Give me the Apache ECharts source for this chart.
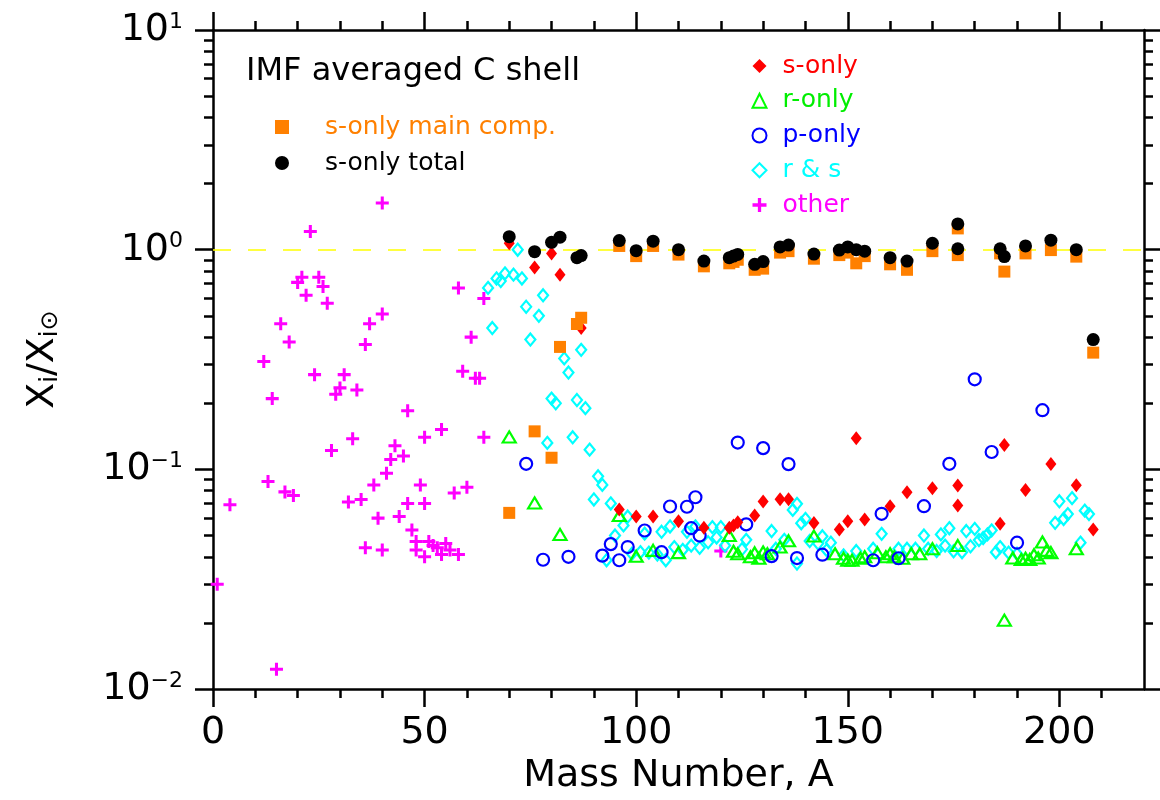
<!DOCTYPE html>
<html>
<head>
<meta charset="utf-8">
<script src="https://cdn.jsdelivr.net/npm/echarts@6/dist/echarts.min.js"></script>
<style>
  html, body { margin: 0; padding: 0; background: #fff; }
  #chart { width: 1160px; height: 800px; }
</style>
</head>
<body>
<div id="chart"></div>
<script>
// ---------------- data ----------------
const xMajorTicks = [0, 50, 100, 150, 200];
const xMinorTicks = [10, 20, 30, 40, 60, 70, 80, 90, 110, 120, 130, 140, 160, 170, 180, 190, 210];
const yMajorTicks = [0.01, 0.1, 1, 10];
const yMinorTicks = [0.02, 0.03, 0.04, 0.05, 0.06, 0.07, 0.08, 0.09,
                     0.2, 0.3, 0.4, 0.5, 0.6, 0.7, 0.8, 0.9,
                     2, 3, 4, 5, 6, 7, 8, 9];

const otherData = [
  [1,0.030],[4,0.069],[12,0.31],[13,0.088],[14,0.21],[15,0.0123],[16,0.46],[17,0.079],
  [18,0.38],[19,0.076],[20,0.71],[21,0.75],[22,0.62],[23,1.21],[24,0.27],[25,0.75],
  [26,0.68],[27,0.57],[28,0.122],[29,0.22],[30,0.235],[31,0.27],[32,0.071],[33,0.138],
  [34,0.23],[35,0.073],[36,0.37],[36,0.044],[37,0.46],[38,0.085],[39,0.060],[40,1.63],
  [40,0.51],[40,0.043],[41,0.096],[42,0.111],[43,0.128],[44,0.061],[45,0.115],[46,0.185],
  [46,0.070],[47,0.053],[48,0.047],[48,0.043],[49,0.085],[50,0.14],[50,0.070],[50,0.040],
  [51,0.047],[52,0.045],[53,0.044],[54,0.152],[54,0.041],[55,0.046],[56,0.043],[57,0.078],
  [58,0.67],[58,0.041],[59,0.28],[60,0.083],[61,0.40],[62,0.26],[63,0.26],[64,0.60],
  [64,0.14],[120,0.0425]
];

const rsData = [
  [65,0.67],[66,0.44],[67,0.74],[68,0.72],[69,0.78],[71,0.77],[72,1.0],[73,0.74],
  [74,0.55],[75,0.39],[77,0.50],[78,0.62],[79,0.132],[80,0.21],[81,0.20],[83,0.32],
  [84,0.276],[85,0.14],[86,0.207],[87,0.35],[88,0.19],[89,0.123],[90,0.073],[91,0.093],
  [92,0.085],[93,0.0386],[94,0.070],[95,0.050],[97,0.0556],[98,0.061],[99,0.0413],[101,0.042],
  [102,0.051],[103,0.0418],[105,0.041],[106,0.052],[107,0.0386],[108,0.055],[109,0.0443],[111,0.043],
  [112,0.052],[113,0.045],[114,0.055],[115,0.044],[117,0.0466],[118,0.0546],[119,0.049],[120,0.0546],
  [121,0.045],[125,0.0433],[126,0.0478],[132,0.0524],[133,0.0435],[135,0.0478],[137,0.0654],[138,0.0697],
  [138,0.0373],[139,0.0569],[140,0.0595],[141,0.0472],[143,0.046],[144,0.0496],[145,0.0429],[146,0.0464],
  [149,0.0406],[152,0.0425],[156,0.0435],[158,0.0509],[162,0.0435],[164,0.0435],[166,0.0435],[168,0.050],
  [169,0.0435],[171,0.0425],[172,0.0506],[173,0.045],[174,0.054],[175,0.0424],[177,0.042],[178,0.0524],
  [179,0.0447],[180,0.0536],[181,0.0477],[182,0.0487],[183,0.0506],[184,0.0528],[185,0.042],[186,0.0443],
  [188,0.0418],[190,0.0413],[199,0.0571],[200,0.0716],[201,0.0595],[202,0.0626],[203,0.074],[205,0.0464],
  [206,0.0649],[207,0.0626]
];

const pOnlyData = [
  [74,0.106],[78,0.0388],[84,0.040],[92,0.0405],[94,0.0457],[96,0.0386],[98,0.0443],[102,0.0527],
  [106,0.042],[108,0.0678],[112,0.0676],[113,0.054],[114,0.0747],[115,0.050],
  [124,0.1325],[126,0.0562],[130,0.125],[132,0.0403],[136,0.1057],[138,0.0395],[144,0.0409],[156,0.0386],
  [158,0.0628],[162,0.0394],[168,0.068],[174,0.106],[180,0.257],[184,0.120],[190,0.0464],[196,0.186]
];

const rOnlyData = [
  [70,0.1406],[76,0.0704],[82,0.0506],[96,0.0617],[100,0.0402],[104,0.0428],[110,0.0418],[122,0.050],
  [123,0.0424],[124,0.0413],[127,0.040],[128,0.0417],[129,0.0394],[130,0.0421],[131,0.0413],[134,0.0443],
  [136,0.0473],[142,0.0497],[147,0.0413],[149,0.0394],[150,0.0386],[151,0.0386],[153,0.0394],[154,0.040],
  [157,0.0417],[159,0.040],[160,0.0413],[161,0.040],[163,0.0394],[165,0.0413],[167,0.0413],[170,0.0435],
  [176,0.045],[187,0.0206],[189,0.0395],[191,0.0389],[192,0.0394],[193,0.0389],[194,0.0409],[195,0.0395],
  [196,0.0467],[197,0.0428],[198,0.0418],[204,0.0435]
];

const sOnlyData = [
  [70,1.07],[76,0.83],[80,0.96],[82,0.77],[87,0.44],[96,0.0657],[100,0.0611],[104,0.0611],
  [110,0.058],[116,0.0542],[122,0.0542],[123,0.0555],[124,0.0574],[128,0.0617],[130,0.0714],[134,0.0731],
  [136,0.0731],[142,0.057],[148,0.0533],[150,0.058],[152,0.1387],[154,0.0592],[160,0.068],[164,0.0787],
  [170,0.082],[176,0.0844],[176,0.0685],[186,0.0565],[187,0.129],[192,0.0805],[198,0.1057],[204,0.0847],
  [208,0.0533]
];

const mainCompData = [
  [70,0.0634],[76,0.149],[80,0.113],[82,0.361],[86,0.459],[87,0.49],[96,1.04],[100,0.935],
  [104,1.04],[110,0.95],[116,0.84],[122,0.867],[123,0.88],[124,0.90],[128,0.81],[130,0.82],
  [134,0.97],[136,0.985],[142,0.91],[148,0.945],[150,0.97],[152,0.867],[154,0.935],[160,0.858],
  [164,0.81],[170,0.985],[176,1.25],[176,0.945],[186,0.962],[187,0.795],[192,0.962],[198,0.996],
  [204,0.93],[208,0.34]
];

const totalData = [
  [70,1.146],[76,0.98],[80,1.08],[82,1.14],[86,0.92],[87,0.94],[96,1.10],[100,0.99],
  [104,1.094],[110,1.0],[116,0.888],[122,0.92],[123,0.935],[124,0.952],[128,0.858],[130,0.883],
  [134,1.03],[136,1.05],[142,0.955],[148,0.996],[150,1.03],[152,1.0],[154,0.985],[160,0.92],
  [164,0.888],[170,1.07],[176,1.31],[176,1.01],[186,1.01],[187,0.93],[192,1.04],[198,1.105],
  [204,1.0],[208,0.39]
];

const referenceLevel = 1;

// ---------------- styling ----------------
const FF = 'DejaVu Sans';
const PLUS = 'path://M4.6,0 L7.4,0 L7.4,4.6 L12,4.6 L12,7.4 L7.4,7.4 L7.4,12 L4.6,12 L4.6,7.4 L0,7.4 L0,4.6 L4.6,4.6 Z';
const C = {
  other: '#ff00ff', rs: '#00ffff', p: '#0000ff', r: '#00ff00',
  s: '#ff0000', main: '#ff8000', total: '#000000'
};

function supLabel(v) {
  const e = Math.round(Math.log10(v));
  const s = e < 0 ? '\u2212' + Math.abs(e) : String(e);
  return '{b|10}{s|' + s + '}';
}

const axisLineStyle = { color: '#000', width: 2.5 };

function xAx(position, ticks, len, showLine, showLabel) {
  return {
    type: 'value', min: 0, max: 220, position: position, gridIndex: 0,
    axisLine: { show: showLine, onZero: false, lineStyle: axisLineStyle },
    axisTick: { show: true, inside: false, length: len, customValues: ticks, lineStyle: { color: '#000', width: 2.5 } },
    axisLabel: showLabel ? {
      show: true, customValues: ticks, fontSize: 38, fontFamily: FF, color: '#000', margin: 25
    } : { show: false, customValues: ticks },
    splitLine: { show: false }, minorTick: { show: false }
  };
}
function yAx(position, ticks, len, showLine, showLabel) {
  return {
    type: 'log', logBase: 10, min: 0.01, max: 10, position: position, gridIndex: 0,
    axisLine: { show: showLine, onZero: false, lineStyle: axisLineStyle },
    axisTick: { show: true, inside: false, length: len, customValues: ticks, lineStyle: { color: '#000', width: 2.5 } },
    axisLabel: showLabel ? {
      show: true, customValues: ticks, margin: 30, formatter: supLabel,
      rich: {
        b: { fontSize: 38, fontFamily: FF, color: '#000' },
        s: { fontSize: 22, fontFamily: FF, color: '#000', padding: [0, 0, 16, 0] }
      }
    } : { show: false, customValues: ticks },
    splitLine: { show: false }, minorTick: { show: false }
  };
}

const xAxes = [
  xAx('bottom', xMajorTicks, 18, true, true),
  xAx('bottom', xMinorTicks, 9, false, false),
  xAx('top', xMajorTicks, 18, true, false),
  xAx('top', xMinorTicks, 9, false, false)
];
xAxes[0].name = 'Mass Number, A';
xAxes[0].nameLocation = 'middle';
xAxes[0].nameGap = 63;
xAxes[0].nameTextStyle = { fontSize: 38, fontFamily: FF, color: '#000' };

const yAxes = [
  yAx('left', yMajorTicks, 18, true, true),
  yAx('left', yMinorTicks, 9, false, false),
  yAx('right', yMajorTicks, 18, true, false),
  yAx('right', yMinorTicks, 9, false, false)
];
yAxes[0].name = '{x|X}{i|i}{x|/X}{i|i\u2299}';
yAxes[0].nameLocation = 'middle';
yAxes[0].nameGap = 150;
yAxes[0].nameRotate = 90;
yAxes[0].nameTextStyle = {
  rich: {
    x: { fontSize: 38, fontFamily: FF, color: '#000' },
    i: { fontSize: 24, fontFamily: FF, color: '#000', padding: [16, 0, 0, 0] }
  }
};

function scatter(name, data, symbol, size, fill, stroke, bw, z) {
  return {
    type: 'scatter', name: name, data: data, symbol: symbol, symbolSize: size,
    xAxisIndex: 0, yAxisIndex: 0, z: z,
    itemStyle: { color: fill, borderColor: stroke, borderWidth: bw, opacity: 1 },
    emphasis: { disabled: true }
  };
}

const series = [
  scatter('other', otherData, PLUS, 13, C.other, C.other, 0, 2),
  scatter('r & s', rsData, 'diamond', [10, 12], 'transparent', C.rs, 2.2, 3),
  scatter('r-only', rOnlyData, 'triangle', [13, 11], 'transparent', C.r, 2.2, 4),
  scatter('p-only', pOnlyData, 'circle', 12, 'transparent', C.p, 2.2, 5),
  scatter('s-only', sOnlyData, 'diamond', [11, 14], C.s, C.s, 0, 6),
  scatter('s-only main comp.', mainCompData, 'rect', 12, C.main, C.main, 0, 7),
  scatter('s-only total', totalData, 'circle', 13, C.total, C.total, 0, 8)
];
series[0].markLine = {
  silent: true, symbol: 'none', animation: false,
  label: { show: false },
  lineStyle: { color: '#ffff00', width: 1.5, type: [18, 17] },
  data: [{ yAxis: referenceLevel }]
};

const chart = echarts.init(document.getElementById('chart'), null, { renderer: 'canvas' });
chart.setOption({
  animation: false,
  backgroundColor: '#ffffff',
  title: {
    text: 'IMF averaged C shell', left: 246, top: 56, padding: 0,
    textStyle: { fontSize: 32, fontWeight: 'normal', fontFamily: FF, color: '#000' }
  },
  grid: { left: 213, right: 16, top: 30, bottom: 107, containLabel: false },
  xAxis: xAxes,
  yAxis: yAxes,
  legend: [
    {
      orient: 'vertical', left: 275, top: 114.5, padding: 0, itemGap: 11,
      itemWidth: 14, itemHeight: 14, selectedMode: false,
      formatter: n => '{g|}' + n,
      textStyle: { fontSize: 25, fontFamily: FF, lineHeight: 25, rich: { g: { width: 31 } } },
      data: [
        { name: 's-only main comp.', textStyle: { color: C.main } },
        { name: 's-only total', textStyle: { color: C.total } }
      ]
    },
    {
      orient: 'vertical', left: 751.5, top: 53.5, padding: 0, itemGap: 9.75,
      itemWidth: 14, itemHeight: 14, selectedMode: false,
      formatter: n => '{g|}' + n,
      textStyle: { fontSize: 25, fontFamily: FF, lineHeight: 25, rich: { g: { width: 11 } } },
      data: [
        { name: 's-only', textStyle: { color: C.s } },
        { name: 'r-only', textStyle: { color: '#00ee00' } },
        { name: 'p-only', textStyle: { color: C.p } },
        { name: 'r & s', textStyle: { color: C.rs } },
        { name: 'other', textStyle: { color: C.other } }
      ]
    }
  ],
  series: series
});
</script>
</body>
</html>
